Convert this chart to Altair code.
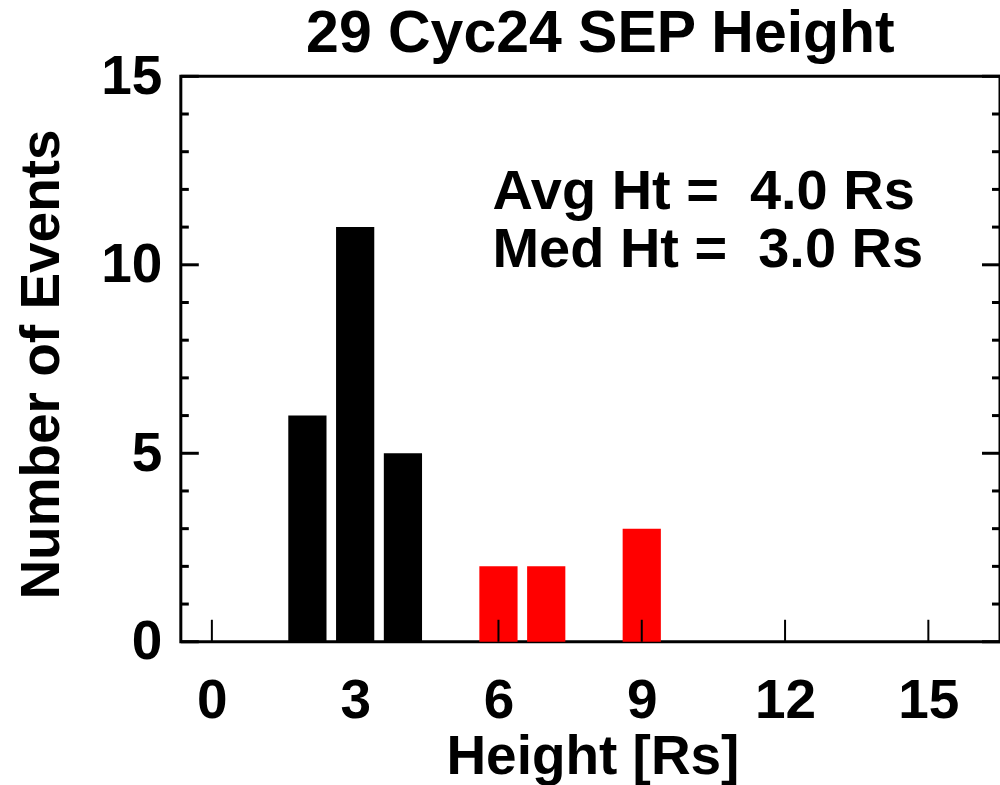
import altair as alt
import pandas as pd

# Data
heights = [2, 3, 4, 6, 7, 9]
counts = [6, 11, 5, 2, 2, 3]
bar_colors = ["black", "black", "black", "red", "red", "red"]
x_ticks = [0, 3, 6, 9, 12, 15]
y_ticks_major = [0, 5, 10, 15]
y_ticks_minor = [1, 2, 3, 4, 6, 7, 8, 9, 11, 12, 13, 14]
notes = ["Avg Ht = \u00a04.0 Rs", "Med Ht = \u00a03.0 Rs"]
title_text = "29 Cyc24 SEP Height"

FONT = "Liberation Sans"
W, H = 820, 566
XDOM = [-0.65, 16.5]
YDOM = [0, 15]

bars_df = pd.DataFrame({"h": heights, "n": counts, "c": bar_colors})
xt_df = pd.DataFrame({"t": x_ticks})
ytM_df = pd.DataFrame({"t": y_ticks_major})
ytm_df = pd.DataFrame({"t": y_ticks_minor})

xscale = alt.Scale(domain=XDOM, nice=False, zero=False)
yscale = alt.Scale(domain=YDOM, nice=False)

x_axis = alt.Axis(
    values=x_ticks, domain=False, ticks=False, grid=False, tickSize=0,
    labelFont=FONT, labelFontSize=55, labelFontWeight="bold", labelColor="black",
    labelPadding=33, labelBaseline="top", labelFlush=False,
    title="Height [Rs]", titleFont=FONT, titleFontSize=55, titleFontWeight="bold",
    titleColor="black", titleX=412, titleY=132, titleBaseline="alphabetic",
    titleAlign="center",
)
y_axis = alt.Axis(
    values=y_ticks_major, domain=False, ticks=False, grid=False, tickSize=0,
    labelFont=FONT, labelFontSize=55, labelFontWeight="bold", labelColor="black",
    labelPadding=19, labelBaseline="middle", labelFlush=False,
    title="Number of Events", titleFont=FONT, titleFontSize=55, titleFontWeight="bold",
    titleColor="black", titleX=-122, titleY=288, titleAngle=-90,
    titleBaseline="alphabetic", titleAlign="center",
)

bars = alt.Chart(bars_df).transform_calculate(
    x0="datum.h - 0.4", x1="datum.h + 0.4"
).mark_bar(stroke=None).encode(
    x=alt.X("x0:Q", scale=xscale, axis=x_axis),
    x2="x1:Q",
    y=alt.Y("n:Q", scale=yscale, axis=y_axis),
    y2=alt.datum(0),
    color=alt.Color("c:N", scale=None),
)

xticks = alt.Chart(xt_df).mark_rule(color="black", strokeWidth=2).encode(
    x=alt.X("t:Q", scale=xscale), y=alt.value(H), y2=alt.value(H - 22)
)
ytM_left = alt.Chart(ytM_df).mark_rule(color="black", strokeWidth=3).encode(
    y=alt.Y("t:Q", scale=yscale), x=alt.value(0), x2=alt.value(18)
)
ytm_left = alt.Chart(ytm_df).mark_rule(color="black", strokeWidth=3).encode(
    y=alt.Y("t:Q", scale=yscale), x=alt.value(0), x2=alt.value(8)
)
ytM_right = alt.Chart(ytM_df).mark_rule(color="black", strokeWidth=3).encode(
    y=alt.Y("t:Q", scale=yscale), x=alt.value(W), x2=alt.value(W - 18)
)
ytm_right = alt.Chart(ytm_df).mark_rule(color="black", strokeWidth=3).encode(
    y=alt.Y("t:Q", scale=yscale), x=alt.value(W), x2=alt.value(W - 8)
)

note_layers = []
for i, line in enumerate(notes):
    note_layers.append(
        alt.Chart(pd.DataFrame({"s": [line]})).mark_text(
            font=FONT, fontSize=56, fontWeight="bold", color="black",
            align="left", baseline="alphabetic"
        ).encode(text="s:N", x=alt.value(312), y=alt.value(133 + 58 * i))
    )

title_layer = alt.Chart(pd.DataFrame({"s": [title_text]})).mark_text(
    font=FONT, fontSize=59, fontWeight="bold", color="black",
    align="center", baseline="alphabetic"
).encode(text="s:N", x=alt.value(420), y=alt.value(-24))

chart = alt.layer(
    bars, xticks, ytM_left, ytm_left, ytM_right, ytm_right, *note_layers, title_layer
).properties(
    width=W, height=H,
    autosize=alt.AutoSizeParams(type="none"),
    padding={"left": 181, "top": 76, "right": 0, "bottom": 143},
    background="white",
).configure_view(
    stroke="black", strokeWidth=3
)

chart.save("out.html", embed_options={"renderer": "svg", "actions": False})
